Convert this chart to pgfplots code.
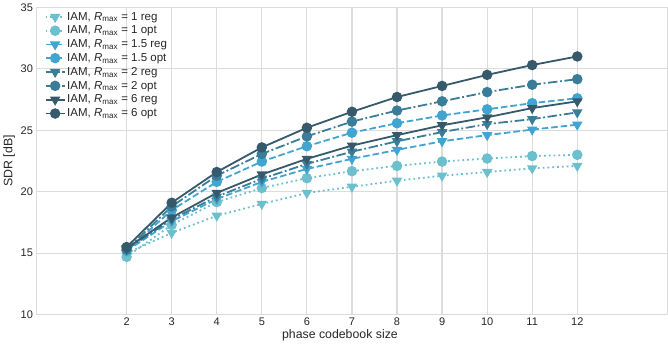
\documentclass[border=0pt]{standalone}
\usepackage{fontspec}
\setmainfont{Liberation Sans}
\usepackage{pgfplots}
\pgfplotsset{compat=1.18}

\definecolor{cA}{HTML}{6CBFCC}
\definecolor{cB}{HTML}{42A5D1}
\definecolor{cC}{HTML}{3A7D98}
\definecolor{cD}{HTML}{36596B}
\definecolor{gridc}{HTML}{DCDCDC}
\definecolor{txt}{HTML}{262626}

\newcommand{\rmx}{\textit{R}\textsubscript{max}}

\tikzset{
  mdot/.style={dash pattern=on 1.8pt off 3pt},
  mdash/.style={dash pattern=on 6.6pt off 2.9pt},
  mdashdot/.style={dash pattern=on 9.5pt off 2.6pt on 1.8pt off 2.6pt},
}

\begin{document}
\begin{tikzpicture}
\begin{axis}[
  scale only axis,
  width=630pt, height=307pt,
  xmin=0, xmax=14, ymin=10, ymax=35,
  xtick={2,3,...,12}, ytick={10,15,...,35},
  grid=major,
  major grid style={gridc, line width=1.2pt},
  axis line style={gridc, line width=1.2pt},
  major tick length=0pt,
  tick label style={font=\fontsize{11}{13}\selectfont, text=txt},
  /pgf/number format/assume math mode=true,
  xlabel={phase codebook size}, ylabel={SDR [dB]},
  label style={font=\fontsize{12.3}{14}\selectfont, text=txt},
  xlabel style={yshift=3pt, xshift=-12pt},
  ylabel style={yshift=-1pt},
  legend style={draw=none, fill=none, font=\fontsize{11.5}{13}\selectfont, text=txt,
    row sep=1.1pt, at={(0.008,0.996)}, anchor=north west,
    nodes={inner sep=1.6pt}},
  legend cell align=left,
  legend image code/.code={%
    \draw[mark repeat=2,mark phase=2] plot coordinates {(0pt,0pt) (9.5pt,0pt) (19pt,0pt)};},
  every axis plot/.append style={line width=1.8pt, mark size=4.3pt},
]
\addplot[cA, mdot, mark=triangle*, mark options={solid, rotate=180}]
  coordinates {(2,15.0)(3,16.65)(4,18.05)(5,19.0)(6,19.9)(7,20.4)(8,20.9)(9,21.3)(10,21.6)(11,21.9)(12,22.1)};
\addlegendentry{IAM, \rmx{} = 1 reg}
\addplot[cA, mdot, mark=*, mark options={solid}]
  coordinates {(2,14.7)(3,17.3)(4,19.15)(5,20.3)(6,21.1)(7,21.67)(8,22.1)(9,22.45)(10,22.7)(11,22.9)(12,23.0)};
\addlegendentry{IAM, \rmx{} = 1 opt}
\addplot[cB, mdash, mark=triangle*, mark options={solid, rotate=180}]
  coordinates {(2,15.2)(3,17.6)(4,19.4)(5,20.8)(6,21.85)(7,22.67)(8,23.4)(9,24.1)(10,24.6)(11,25.05)(12,25.45)};
\addlegendentry{IAM, \rmx{} = 1.5 reg}
\addplot[cB, mdash, mark=*, mark options={solid}]
  coordinates {(2,15.2)(3,18.5)(4,20.8)(5,22.45)(6,23.7)(7,24.8)(8,25.57)(9,26.2)(10,26.7)(11,27.2)(12,27.6)};
\addlegendentry{IAM, \rmx{} = 1.5 opt}
\addplot[cC, mdashdot, mark=triangle*, mark options={solid, rotate=180}]
  coordinates {(2,15.3)(3,17.75)(4,19.6)(5,21.05)(6,22.26)(7,23.25)(8,24.1)(9,24.85)(10,25.5)(11,25.9)(12,26.45)};
\addlegendentry{IAM, \rmx{} = 2 reg}
\addplot[cC, mdashdot, mark=*, mark options={solid}]
  coordinates {(2,15.3)(3,18.8)(4,21.3)(5,23.07)(6,24.5)(7,25.7)(8,26.6)(9,27.35)(10,28.1)(11,28.7)(12,29.15)};
\addlegendentry{IAM, \rmx{} = 2 opt}
\addplot[cD, solid, mark=triangle*, mark options={solid, rotate=180}]
  coordinates {(2,15.4)(3,17.9)(4,19.9)(5,21.4)(6,22.67)(7,23.75)(8,24.6)(9,25.4)(10,26.05)(11,26.8)(12,27.35)};
\addlegendentry{IAM, \rmx{} = 6 reg}
\addplot[cD, solid, mark=*, mark options={solid}]
  coordinates {(2,15.5)(3,19.1)(4,21.6)(5,23.6)(6,25.2)(7,26.5)(8,27.7)(9,28.6)(10,29.5)(11,30.3)(12,31.0)};
\addlegendentry{IAM, \rmx{} = 6 opt}
\end{axis}
\end{tikzpicture}
\end{document}
